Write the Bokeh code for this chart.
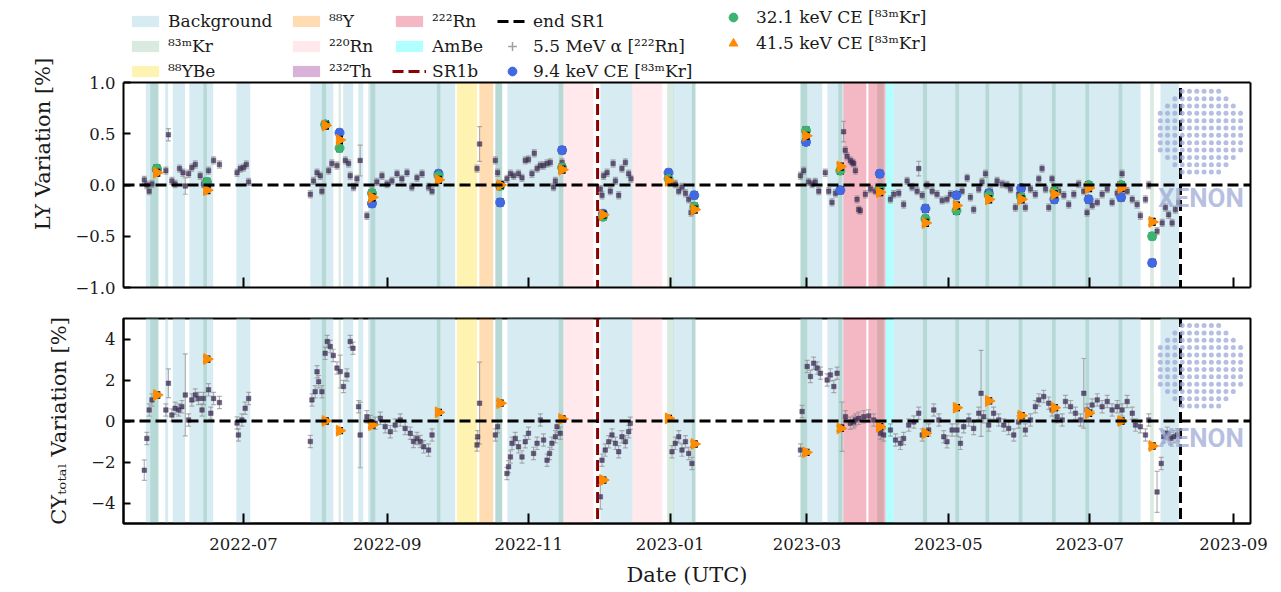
import math
import numpy as np
import pandas as pd
from bokeh.plotting import figure
from bokeh.layouts import column
from bokeh.models import (Range1d, FixedTicker, DatetimeTickFormatter, Span, Legend,
                          LegendItem, Label, ColumnDataSource, LinearAxis)
from bokeh.embed import file_html
from bokeh.resources import INLINE

# ---------------------------------------------------------------- data
START = pd.Timestamp("2022-05-01")          # all "day" values count from here
X_MIN_DAY, X_MAX_DAY = 9.23, 495.3
SR1B_DAY = 213.7
END_SR1_DAY = 465.1
MONTH_TICKS = ["2022-07-01", "2022-09-01", "2022-11-01", "2023-01-01",
               "2023-03-01", "2023-05-01", "2023-07-01", "2023-09-01"]

# calibration / background periods (day ranges)
bg_start = [18.9, 27.2, 30.5, 37.6, 57.9, 89.8, 104.0, 110.5, 114.8, 169.6, 174.8,
            214.9, 246.4, 301.2, 312.8, 341.3, 456.5]
bg_end = [24.3, 28.5, 35.8, 47.9, 63.9, 99.7, 108.3, 112.6, 152.3, 172.6, 198.9,
          228.7, 255.9, 310.6, 319.7, 447.9, 464.4]
kr_band_start = [20.8, 43.7, 94.8, 102.0, 115.7, 144.4, 169.6, 196.9, 243.7, 254.4, 301.2,
                 317.5, 334.3, 354.0, 368.0, 381.0, 395.3, 409.7, 424.1, 438.4, 452.0]
kr_band_end = [24.3, 45.2, 96.6, 103.0, 117.8, 145.9, 172.5, 199.0, 246.5, 255.9, 304.1,
               319.2, 337.1, 355.8, 369.6, 382.6, 396.9, 411.3, 425.7, 440.0, 453.6]
ybe_start, ybe_end = [153.0], [161.7]
y88_start, y88_end = [162.7], [168.7]
rn220_start, rn220_end = [198.9, 228.7], [211.9, 241.6]
th232_start, th232_end = [], []
rn222_start, rn222_end = [319.7, 330.5], [329.6, 337.9]
ambe_start, ambe_end = [337.9], [341.3]

# 5.5 MeV alpha (222Rn): (day, LY variation %)
alpha_ly = [
    (18.2, 0.05), (19.3, 0.0), (20.3, -0.06), (21.5, 0.01), (23.6, 0.14), (27.5, 0.14),
    (28.6, 0.49), (30.1, 0.04), (31.5, 0.01), (33.4, 0.16), (34.9, 0.12), (35.9, -0.01),
    (37.3, 0.11), (38.7, 0.17), (40.2, 0.20), (42.3, 0.09), (43.7, 0.01), (45.9, 0.14),
    (48.1, 0.24), (50.6, 0.20), (58.2, 0.12), (59.6, 0.16), (61.0, 0.17), (62.2, 0.20),
    (63.2, 0.03), (89.8, -0.09), (91.2, 0.04), (92.7, 0.12), (94.1, 0.09), (94.8, -0.06),
    (97.7, 0.14), (99.1, 0.21), (101.3, 0.19), (104.9, 0.24), (106.3, 0.21), (107.0, 0.09),
    (108.5, -0.02), (109.9, 0.06), (111.3, 0.24), (114.2, -0.30), (116.4, -0.06),
    (118.5, 0.03), (120.7, 0.09), (122.9, 0.01), (125.0, 0.04), (127.2, 0.11), (129.3, 0.06),
    (131.5, 0.12), (133.6, -0.02), (135.8, 0.07), (138.0, 0.11), (140.8, -0.02), (142.3, -0.06),
    (161.7, 0.16), (162.8, 0.40), (169.6, 0.24), (170.6, 0.12), (172.5, 0.01), (174.6, 0.06),
    (176.1, 0.11), (177.5, 0.09), (179.6, 0.11), (181.1, 0.07), (182.5, 0.24), (183.9, 0.25),
    (185.4, 0.11), (186.4, 0.31), (187.6, 0.16), (189.0, 0.19), (190.4, 0.19), (191.9, 0.21),
    (193.3, 0.22), (194.7, -0.02), (195.5, 0.04), (198.4, 0.22),
    (214.9, -0.04), (215.6, -0.10), (216.3, 0.09), (217.8, 0.12), (219.2, -0.06), (220.4, 0.21),
    (221.4, 0.04), (222.8, -0.10), (224.2, 0.16), (225.7, 0.22), (227.1, 0.11), (228.1, 0.06),
    (243.7, 0.09), (245.1, 0.03), (247.2, 0.01), (248.7, -0.06), (250.1, -0.02), (251.6, -0.08),
    (253.0, -0.14), (254.0, -0.27),
    (301.2, 0.09), (302.6, 0.14), (304.7, 0.03), (306.2, 0.01), (307.6, 0.03), (309.1, -0.06),
    (311.9, 0.12), (313.4, -0.06), (314.8, -0.17), (316.3, -0.08), (319.8, 0.52), (320.5, 0.34),
    (321.3, 0.28), (322.7, 0.24), (323.5, 0.22), (324.2, 0.21), (324.9, 0.14), (325.6, -0.14),
    (326.3, -0.24), (327.0, -0.25), (329.2, -0.09), (331.4, -0.04), (333.5, -0.06),
    (340.0, -0.14), (341.4, -0.09), (343.6, -0.08), (345.7, -0.19), (347.2, 0.04), (349.3, -0.02),
    (351.5, -0.06), (352.2, 0.16), (353.7, -0.10), (355.8, 0.0), (358.0, -0.06), (360.1, -0.09),
    (362.3, -0.15), (364.4, -0.14), (365.9, -0.09), (370.9, -0.06), (373.1, 0.07), (374.5, -0.12),
    (375.9, -0.24), (378.1, -0.04), (379.5, 0.03), (381.0, 0.11), (383.1, -0.06), (386.0, 0.04),
    (388.2, 0.01), (390.3, 0.0), (391.8, -0.04), (393.9, -0.22), (395.3, -0.09), (398.2, -0.22),
    (400.4, -0.04), (402.5, -0.09), (404.0, 0.06), (405.4, 0.16), (406.9, -0.04), (408.3, -0.22),
    (409.7, 0.06), (412.6, -0.06), (414.8, -0.10), (416.9, -0.19), (419.1, -0.09), (421.2, 0.01),
    (423.4, -0.06), (424.8, -0.27), (427.0, -0.20), (429.2, -0.17), (431.3, -0.09), (433.5, -0.04),
    (435.6, -0.17), (437.8, -0.08), (439.9, 0.11), (442.1, -0.06), (444.3, -0.14), (446.4, -0.19),
    (447.8, -0.30), (450.0, -0.14), (451.4, 0.0), (455.0, -0.45), (457.2, -0.37), (458.6, -0.22),
    (460.0, -0.29), (461.5, -0.37), (462.9, -0.24), (464.4, -0.17),
]
alpha_ly_err_default = 0.035
alpha_ly_err_big = {28.6: 0.06, 35.9: 0.08, 111.3: 0.15, 162.8: 0.17, 319.8: 0.10, 352.2: 0.07}

# 5.5 MeV alpha (222Rn): (day, CY_total variation %)
alpha_cy = [
    (18.2, -2.4), (19.3, -0.85), (20.3, 0.54), (21.5, 1.03), (27.5, 0.54), (28.6, 1.84),
    (30.1, 0.29), (31.5, 0.62), (33.0, 0.54), (34.4, 0.7), (35.9, 1.27), (37.3, 0.05),
    (38.7, 1.03), (40.2, 1.27), (41.6, 1.1), (43.1, 0.54), (43.7, 1.1), (45.9, 1.52),
    (46.9, 0.38), (48.1, 1.1), (50.6, 0.9), (58.2, -0.1), (58.8, -0.68), (60.3, 0.05),
    (61.7, 0.62), (63.2, 1.1),
    (89.8, -1.0), (90.5, 1.03), (91.9, 1.43), (92.7, 2.4), (93.4, 1.92), (94.8, 1.43),
    (96.2, 3.3), (97.1, 3.88), (98.4, 3.63), (99.7, 3.2), (101.3, 2.58), (102.7, 2.41),
    (104.1, 1.68), (105.6, 2.25), (107.0, 3.88), (108.2, 3.55), (110.6, 0.7), (111.3, -0.68),
    (114.2, 0.21), (115.7, -0.03), (117.8, -0.11), (120.0, 0.13), (122.1, -0.28), (124.3, -0.52),
    (126.4, -0.2), (128.6, 0.05), (130.7, -0.36), (132.9, -0.6), (134.3, -1.0), (135.8, -0.85),
    (137.2, -1.0), (138.7, -1.26), (140.8, -1.42), (142.3, -0.68),
    (161.7, -1.17), (162.0, -0.77), (162.8, 0.87), (169.6, -0.68), (170.6, -0.28),
    (174.6, -2.56), (175.3, -2.23), (176.1, -1.75), (176.8, -1.09), (178.2, -0.85),
    (179.6, -1.26), (181.1, -1.75), (182.5, -1.01), (183.9, -0.6), (186.1, -1.58),
    (187.6, -1.09), (189.0, 0.05), (190.4, -0.93), (191.9, -1.91), (193.0, -1.58),
    (194.0, -1.09), (195.5, -0.77), (196.2, -0.28), (197.6, -0.6),
    (214.9, -3.7), (215.6, -1.91), (217.0, -1.42), (218.5, -1.01), (219.9, -0.68),
    (221.4, -1.09), (222.8, -1.5), (224.2, -0.77), (225.7, -1.01), (227.1, -0.52), (227.8, -0.11),
    (245.8, -1.5), (247.2, -1.09), (248.7, -0.77), (250.1, -1.42), (251.6, -1.01),
    (253.0, -1.58), (254.4, -2.07),
    (301.2, -1.42), (301.9, 0.46), (304.1, 2.66), (305.5, 2.17), (306.9, 2.82), (308.4, 2.58),
    (309.8, 2.33), (312.7, 2.0), (314.1, 2.25), (315.6, 1.68), (317.0, 2.33), (319.1, -0.28),
    (320.6, 0.21), (322.7, -0.11), (324.2, -0.05), (324.9, 0.05), (326.3, 0.13), (328.5, 0.21),
    (330.6, 0.25), (332.8, 0.05),
    (335.7, -0.6), (337.1, -0.68), (340.0, -0.44), (342.2, -0.93), (344.3, -1.09), (345.7, -0.85),
    (347.9, -0.2), (350.1, -0.05), (352.2, 0.38), (353.7, -0.68), (356.5, -0.44), (358.7, 0.54),
    (360.9, 0.05), (363.0, -0.77), (364.4, -1.01), (366.6, -0.44), (368.7, -0.44), (370.2, -1.09),
    (371.6, -0.28), (373.8, 0.05), (375.9, -0.36), (378.1, 0.38), (379.1, 1.35), (380.2, 0.21),
    (382.4, -0.2), (384.5, 0.38), (386.7, 0.05), (388.9, -0.2), (391.0, -0.36), (393.2, -0.68),
    (395.3, -0.05), (398.2, -0.44), (400.4, 0.05), (402.5, 0.7), (404.0, 1.03), (406.1, 1.19),
    (408.3, 0.87), (409.7, 0.54), (411.9, 0.21), (414.1, 0.05), (415.5, 0.95), (417.7, 0.7),
    (419.8, 0.38), (422.0, 0.05), (423.4, 1.35), (424.8, 0.54), (427.0, 0.78), (429.2, 1.03),
    (431.3, 0.7), (433.5, 0.95), (435.6, 0.54), (437.8, 0.7), (439.9, 0.54), (442.1, 0.95),
    (444.3, 0.38), (445.7, -0.2), (447.8, -0.28), (450.0, -0.68), (451.4, 0.05), (455.0, -3.46),
    (456.8, -2.07), (457.9, -0.77), (459.4, -0.6), (460.8, -0.85), (462.2, -0.77), (463.7, -0.68),
]
alpha_cy_err_default = 0.3
alpha_cy_err_big = {18.2: 0.5, 28.6: 0.7, 35.9: 2.0, 102.7: 0.8, 111.3: 1.6, 162.8: 2.0,
                    214.9: 0.6, 319.1: 1.2, 379.1: 2.1, 423.4: 1.7, 455.0: 1.0}

# 83mKr calibrations
kr_day = [23.6, 45.2, 96.3, 102.4, 116.4, 145.1, 171.7, 198.4, 216.0, 244.3, 255.4,
          303.6, 318.4, 335.4, 355.1, 368.5, 382.4, 396.4, 410.7, 425.5, 439.5, 452.9]
ly_9keV = [0.15, 0.0, 0.59, 0.51, -0.18, 0.11, -0.17, 0.34, -0.28, 0.12, -0.10,
           0.42, -0.05, 0.11, -0.23, -0.10, -0.08, -0.03, -0.14, -0.14, -0.12, -0.76]
ly_32keV = [0.16, 0.03, 0.59, 0.36, -0.08, 0.09, -0.01, 0.17, -0.31, 0.06, -0.21,
            0.53, 0.14, -0.03, -0.33, -0.25, -0.10, -0.12, -0.06, 0.0, 0.0, -0.50]
ly_41keV = [0.12, -0.05, 0.58, 0.44, -0.12, 0.05, 0.0, 0.15, -0.29, 0.04, -0.24,
            0.48, 0.18, -0.07, -0.37, -0.20, -0.14, -0.14, -0.09, -0.03, -0.03, -0.36]
cy_41keV = [1.27, 3.02, 0.0, -0.47, -0.2, 0.42, 0.87, 0.1, -2.88, 0.13, -1.12,
            -1.53, -0.36, -0.28, -0.6, 0.65, 0.98, 0.26, 0.65, 0.38, 0.0, -1.22]
kr_ly_err = 0.03
kr_cy_err = 0.13

# ---------------------------------------------------------------- helpers
def T(days):
    return START + pd.to_timedelta(np.asarray(days, dtype=float), unit="D")

def ms(day):
    return (START + pd.Timedelta(days=day)).value / 1e6

SERIF = "DejaVu Serif"
W = 1273
BANDS = [
    ("bg", bg_start, bg_end, "#add8e6", 0.5),
    ("kr", kr_band_start, kr_band_end, "#2e8b57", 0.18),
    ("ybe", ybe_start, ybe_end, "#ffd700", 0.3),
    ("y88", y88_start, y88_end, "#ff8c00", 0.3),
    ("rn220", rn220_start, rn220_end, "#ffc0cb", 0.35),
    ("th232", th232_start, th232_end, "#800080", 0.3),
    ("rn222", rn222_start, rn222_end, "#dc143c", 0.3),
    ("ambe", ambe_start, ambe_end, "#00ffff", 0.3),
]
BLUE, GREEN, ORANGE = "#4169e1", "#3cb371", "#ff8c00"
SR1B_COLOR, END_COLOR = "#8b0000", "black"

xr = Range1d(ms(X_MIN_DAY), ms(X_MAX_DAY))


def make_fig(h, ymin, ymax, btop, bbottom, yticks, ylabels, ylabel, xlabels, bounds=None):
    p = figure(width=W, height=h, x_axis_type="datetime", x_range=xr,
               y_range=Range1d(ymin, ymax), output_backend="svg", toolbar_location=None,
               title=None, min_border_left=123, min_border_right=23,
               min_border_top=btop, min_border_bottom=bbottom)
    p.xgrid.grid_line_color = None
    p.ygrid.grid_line_color = None
    p.background_fill_color = "white"
    p.border_fill_color = "white"
    if bounds is None:
        p.outline_line_color = "black"
        p.outline_line_width = 2
        p.outline_line_alpha = 1
    else:
        p.outline_line_color = None
    for ax in (p.xaxis[0], p.yaxis[0]):
        ax.axis_line_width = 2
        ax.axis_line_color = "black"
        ax.major_tick_line_width = 2
        ax.major_tick_line_color = "black"
        ax.major_tick_out = 0
        ax.minor_tick_line_color = None
        ax.major_label_text_font = SERIF
        ax.major_label_text_font_size = "16.5px"
        ax.major_label_text_color = "#1a1a1a"
        ax.axis_label_text_font = SERIF
        ax.axis_label_text_font_style = "normal"
        ax.axis_label_text_font_size = "21px"
        ax.axis_label_text_color = "#1a1a1a"
    p.xaxis.major_tick_in = 10
    p.yaxis.major_tick_in = 7
    tick_ms = [pd.Timestamp(t).value / 1e6 for t in MONTH_TICKS]
    p.xaxis.ticker = FixedTicker(ticks=tick_ms)
    fmt = "%Y-%m"
    p.xaxis.formatter = DatetimeTickFormatter(years=fmt, months=fmt, days=fmt, hours=fmt,
                                              minutes=fmt, seconds=fmt, hourmin=fmt)
    p.yaxis.ticker = FixedTicker(ticks=yticks)
    p.yaxis.major_label_overrides = {float(v): s for v, s in zip(yticks, ylabels)}
    p.yaxis.major_label_standoff = 8
    p.yaxis.axis_label = ylabel
    p.yaxis.axis_label_standoff = 17
    if bounds is not None:
        p.yaxis.bounds = bounds
        right = LinearAxis(bounds=bounds, ticker=FixedTicker(ticks=[]), axis_line_width=2,
                           axis_line_color="black", major_tick_line_color=None,
                           minor_tick_line_color=None)
        p.add_layout(right, "right")
        p.add_layout(Span(location=bounds[1], dimension="width", line_color="black",
                          line_width=2))
    if xlabels:
        p.xaxis.major_label_standoff = 14
        p.xaxis.axis_label = "Date (UTC)"
        p.xaxis.axis_label_standoff = 10
    else:
        p.xaxis.major_label_overrides = {t: "" for t in tick_ms}
        p.xaxis.major_label_standoff = 0
    return p


def draw_panel(p, band_top, alpha_pts, a_err_def, a_err_big, kr_sets, kr_err, cap_kr,
               logo_y, logo_dy, xenon_y):
    for key, s, e, col, a in BANDS:
        if len(s):
            p.quad(left=T(s), right=T(e), bottom=-100, top=band_top,
                   fill_color=col, fill_alpha=a, line_color=None)
    p.line(x=T([SR1B_DAY, SR1B_DAY]), y=[-100, band_top], line_color=SR1B_COLOR,
           line_width=3, line_dash="11 5")
    p.line(x=T([END_SR1_DAY, END_SR1_DAY]), y=[-100, band_top], line_color=END_COLOR,
           line_width=3, line_dash="11 5")
    p.add_layout(Span(location=0, dimension="width", line_color="black", line_width=2.8,
                      line_dash="11 5"))
    # alpha series
    d = np.array([t[0] for t in alpha_pts])
    v = np.array([t[1] for t in alpha_pts])
    e = np.array([a_err_big.get(x, a_err_def) for x in d])
    src = ColumnDataSource(dict(x=T(d), y=v, lo=v - e, hi=v + e))
    p.segment(x0="x", y0="lo", x1="x", y1="hi", source=src, line_color="#8c8c8c",
              line_alpha=0.65, line_width=1.2)
    for c in ("lo", "hi"):
        p.scatter("x", c, source=src, marker="dash", size=5, line_color="#8c8c8c",
                  line_alpha=0.65, line_width=1.2)
    p.scatter("x", "y", source=src, marker="square", size=4.5, fill_color="#3b2a52",
              fill_alpha=0.75, line_color="#3b2a52", line_alpha=0.4)
    # Kr calibration points
    for vals, col, marker, size, ang in kr_sets:
        kv = np.array(vals)
        ks = ColumnDataSource(dict(x=T(kr_day), y=kv, lo=kv - kr_err, hi=kv + kr_err))
        p.segment(x0="x", y0="lo", x1="x", y1="hi", source=ks, line_color="black", line_width=2)
        for c in ("lo", "hi"):
            p.scatter("x", c, source=ks, marker="dash", size=cap_kr, line_color="black",
                      line_width=2)
        p.scatter("x", "y", source=ks, marker=marker, size=size, angle=ang,
                  fill_color=col, line_color=col, line_width=1)
    # XENON watermark
    g = np.arange(-5.5, 6.0, 1.0)
    gx, gy = np.meshgrid(g, g)
    m = gx ** 2 + gy ** 2 <= 6.05 ** 2
    p.scatter(x=T(473.7 + gx[m] * 3.15), y=logo_y + gy[m] * logo_dy, marker="circle",
              size=5, fill_color="#9da8d8", fill_alpha=0.75, line_color=None)
    p.add_layout(Label(x=ms(473.9), y=xenon_y, text="XENON", text_font="Roboto",
                       text_font_style="bold", text_font_size="26px", text_color="#9fabd6",
                       text_alpha=0.75, text_align="center", text_baseline="middle"))


# ---------------------------------------------------------------- panels
# top panel: frame extends up to the page top so the legend can sit above y = 1
LY_TOP = 1.0 + 82.0 / 102.5
p1 = make_fig(316, -1.0, LY_TOP, 0, 29, [-1.0, -0.5, 0.0, 0.5, 1.0],
              ["\u22121.0", "\u22120.5", "0.0", "0.5", "1.0"], "LY Variation [%]", False,
              bounds=(-1.0, 1.0))
p2 = make_fig(275, -5.0, 5.0, 2, 68, [-4, -2, 0, 2, 4],
              ["\u22124", "\u22122", "0", "2", "4"],
              "CY\u209c\u2092\u209c\u2090\u2097 Variation [%]", True)

draw_panel(p1, 1.0, alpha_ly, alpha_ly_err_default, alpha_ly_err_big,
           [(ly_9keV, BLUE, "circle", 9, 0.0),
            (ly_32keV, GREEN, "circle", 9, 0.0),
            (ly_41keV, ORANGE, "triangle", 11, -math.pi / 2)],
           kr_ly_err, 7, 0.52, 0.0716, -0.13)
draw_panel(p2, 100, alpha_cy, alpha_cy_err_default, alpha_cy_err_big,
           [(cy_41keV, ORANGE, "triangle", 11, -math.pi / 2)],
           kr_cy_err, 7, 2.69, 0.357, -0.83)

# ---------------------------------------------------------------- legend (off-range proxies)
OFF = T([-60.0, -59.0])
leg = {}
for k, _, _, c, a in BANDS:
    leg[k] = p1.quad(left=OFF[:1], right=OFF[1:], bottom=[0], top=[0.5], fill_color=c,
                     fill_alpha=a, line_color=None)
leg["sr1b"] = p1.line(x=OFF, y=[0, 0], line_color=SR1B_COLOR, line_width=3, line_dash="11 5")
leg["end"] = p1.line(x=OFF, y=[0, 0], line_color=END_COLOR, line_width=3, line_dash="11 5")
leg["alpha"] = p1.scatter(x=OFF[:1], y=[0], marker="cross", size=10, line_color="#a0a0a0",
                          line_width=1.5)
leg["k9"] = p1.scatter(x=OFF[:1], y=[0], marker="circle", fill_color=BLUE, line_color=BLUE)
leg["k32"] = p1.scatter(x=OFF[:1], y=[0], marker="circle", fill_color=GREEN, line_color=GREEN)
leg["k41"] = p1.scatter(x=OFF[:1], y=[0], marker="triangle", fill_color=ORANGE,
                        line_color=ORANGE)


def add_legend(items, x, y, gw, gh, spacing=3):
    lg = Legend(items=[LegendItem(label=l, renderers=[leg[k]]) for l, k in items],
                location=(x, y), orientation="vertical", glyph_width=gw, glyph_height=gh,
                label_height=22, spacing=spacing, label_standoff=6, padding=0, margin=0,
                border_line_color=None, background_fill_alpha=0,
                label_text_font=SERIF, label_text_font_size="17px",
                label_text_color="#1a1a1a")
    p1.add_layout(lg, "center")


add_legend([("Background", "bg"), ("\u2078\u00b3\u1d50Kr", "kr"),
            ("\u2078\u2078YBe", "ybe")], 5, 205, 34, 14)
add_legend([("\u2078\u2078Y", "y88"), ("\u00b2\u00b2\u2070Rn", "rn220"),
            ("\u00b2\u00b3\u00b2Th", "th232")], 166, 205, 34, 14)
add_legend([("\u00b2\u00b2\u00b2Rn", "rn222"), ("AmBe", "ambe"),
            ("SR1b", "sr1b")], 269, 205, 34, 14)
add_legend([("end SR1", "end"), ("5.5 MeV \u03b1 [\u00b2\u00b2\u00b2Rn]", "alpha"),
            ("9.4 keV CE [\u2078\u00b3\u1d50Kr]", "k9")], 374, 205, 30, 22)
add_legend([("32.1 keV CE [\u2078\u00b3\u1d50Kr]", "k32"),
            ("41.5 keV CE [\u2078\u00b3\u1d50Kr]", "k41")], 593, 233, 34, 22, spacing=4)

layout = column(p1, p2)
open("out.html", "w").write(file_html(layout, INLINE))
